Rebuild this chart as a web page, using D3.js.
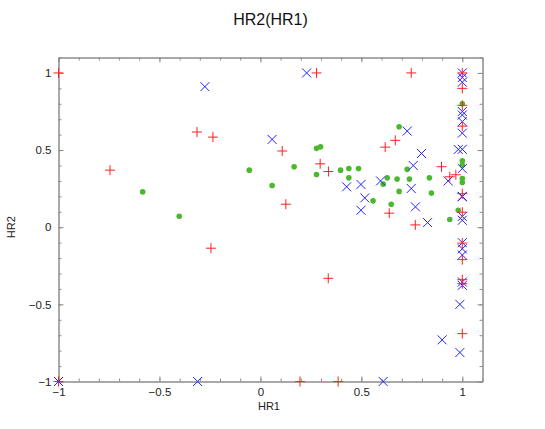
<!DOCTYPE html>
<html>
<head>
<meta charset="utf-8">
<script src="https://cdn.jsdelivr.net/npm/d3@7"></script>
<style>
  body { margin: 0; background: #fff; }
  svg { font-family: "Liberation Sans", Arial, sans-serif; }
  .axis path { stroke: #8c8c8c; }
  .axis line { stroke: #8c8c8c; }
  .axis text { fill: #222; font-size: 11.5px; }
</style>
</head>
<body>
<svg id="chart" width="545" height="429"></svg>
<script>
// red plus markers
const plusX = [-1, -0.745, -0.314, -0.235, -0.245, 0.108, 0.126, 0.196, 0.278, 0.296, 0.337, 0.336, 0.385,
  0.618, 0.668, 0.638, 0.747, 0.767, 0.897, 0.938, 0.968, 1, 1, 1, 1, 1, 1, 1, 1, 1, 1, 1, -1];
const plusY = [1, 0.37, 0.617, 0.584, -0.136, 0.494, 0.149, -1, 1, 0.411, 0.361, -0.331, -1,
  0.519, 0.563, 0.091, 1, 0.015, 0.392, 0.327, 0.34, 1, 0.9, 0.79, 0.655, 0.217, 0.097, -0.103, -0.21, -0.34, -0.366, -0.69, -1];

// blue cross markers
const crossX = [-1, -0.311, -0.275, 0.058, 0.229, 0.427, 0.498, 0.517, 0.498, 0.595, 0.608, 0.727, 0.757, 0.798,
  0.747, 0.768, 0.828, 0.93, 0.98, 0.9, 0.988, 0.988,
  1, 1, 1, 1, 1, 1, 1, 1, 1, 1, 1, 1, 1, 1, 1, 1, 1, 1];
const crossY = [-1, -1, 0.911, 0.569, 1, 0.262, 0.277, 0.19, 0.11, 0.3, -1, 0.623, 0.4, 0.478,
  0.251, 0.132, 0.03, 0.3, 0.504, -0.73, -0.5, -0.812,
  1, 0.97, 0.94, 0.75, 0.727, 0.684, 0.61, 0.505, 0.38, 0.2, 0.197, 0.07, 0.045, -0.1, -0.14, -0.18, -0.355, -0.377];

// green dots
const dotX = [-0.583, -0.402, -0.055, 0.058, 0.167, 0.278, 0.298, 0.278, 0.397, 0.438, 0.486, 0.438, 0.558,
  0.628, 0.608, 0.677, 0.687, 0.687, 0.727, 0.738, 0.648, 0.837, 0.847, 0.938, 0.98, 1, 1, 1, 1, 1];
const dotY = [0.229, 0.071, 0.37, 0.27, 0.392, 0.511, 0.521, 0.342, 0.37, 0.381, 0.381, 0.32, 0.171,
  0.32, 0.279, 0.312, 0.651, 0.232, 0.375, 0.312, 0.149, 0.32, 0.221, 0.05, 0.11, 0.8, 0.43, 0.403, 0.316, 0.29];

const majorTicks = [-1, -0.5, 0, 0.5, 1];
const minorTicks = d3.range(-10, 12).map(d => d / 10);

const title = "HR2(HR1)";
const xLabel = "HR1";
const yLabel = "HR2";

const svg = d3.select("#chart");
const pLeft = 58.5, pRight = 482.5, pTop = 57.5, pBottom = 381.5;

const x = d3.scaleLinear().domain([-1, 1.1]).range([pLeft, pRight]);
const y = d3.scaleLinear().domain([-1, 1.1]).range([pBottom, pTop]);

function axes() {
  // minor ticks on all four sides, pointing inward
  svg.append("g").attr("class", "axis").attr("transform", "translate(0," + pBottom + ")")
    .call(d3.axisBottom(x).tickValues(minorTicks).tickSizeInner(-3).tickSizeOuter(0).tickFormat(""));
  svg.append("g").attr("class", "axis").attr("transform", "translate(0," + pTop + ")")
    .call(d3.axisTop(x).tickValues(minorTicks).tickSizeInner(-3).tickSizeOuter(0).tickFormat(""));
  svg.append("g").attr("class", "axis").attr("transform", "translate(" + pLeft + ",0)")
    .call(d3.axisLeft(y).tickValues(minorTicks).tickSizeInner(-3).tickSizeOuter(0).tickFormat(""));
  svg.append("g").attr("class", "axis").attr("transform", "translate(" + pRight + ",0)")
    .call(d3.axisRight(y).tickValues(minorTicks).tickSizeInner(-3).tickSizeOuter(0).tickFormat(""));

  // major ticks + labels
  svg.append("g").attr("class", "axis").attr("transform", "translate(0," + pBottom + ")")
    .call(d3.axisBottom(x).tickValues(majorTicks).tickSizeInner(-5).tickSizeOuter(0).tickPadding(6).tickFormat(d3.format("")));
  svg.append("g").attr("class", "axis").attr("transform", "translate(0," + pTop + ")")
    .call(d3.axisTop(x).tickValues(majorTicks).tickSizeInner(-5).tickSizeOuter(0).tickFormat(""));
  svg.append("g").attr("class", "axis").attr("transform", "translate(" + pLeft + ",0)")
    .call(d3.axisLeft(y).tickValues(majorTicks).tickSizeInner(-5).tickSizeOuter(0).tickPadding(7).tickFormat(d3.format("")));
  svg.append("g").attr("class", "axis").attr("transform", "translate(" + pRight + ",0)")
    .call(d3.axisRight(y).tickValues(majorTicks).tickSizeInner(-5).tickSizeOuter(0).tickFormat(""));
}
axes();

// green dots
svg.append("g").selectAll("circle").data(d3.zip(dotX, dotY)).enter().append("circle")
  .attr("cx", d => x(d[0]))
  .attr("cy", d => y(d[1]))
  .attr("r", 2.8)
  .attr("fill", "#4cb82e");

// blue crosses
svg.append("g").selectAll("path").data(d3.zip(crossX, crossY)).enter().append("path")
  .attr("transform", d => "translate(" + x(d[0]) + "," + y(d[1]) + ")")
  .attr("d", "M-4.5,-4.5L4.5,4.5M-4.5,4.5L4.5,-4.5")
  .attr("stroke", "#2222ff")
  .attr("stroke-width", 1)
  .attr("fill", "none");

// red pluses
svg.append("g").selectAll("path").data(d3.zip(plusX, plusY)).enter().append("path")
  .attr("transform", d => "translate(" + x(d[0]) + "," + y(d[1]) + ")")
  .attr("d", "M-5,0L5,0M0,-5L0,5")
  .attr("stroke", "#ff2020")
  .attr("stroke-width", 1)
  .attr("fill", "none");

// titles
svg.append("text")
  .attr("x", (pLeft + pRight) / 2).attr("y", 25)
  .attr("text-anchor", "middle")
  .attr("font-size", "16px").attr("fill", "#111")
  .text(title);

svg.append("text")
  .attr("x", 269).attr("y", 410)
  .attr("text-anchor", "middle")
  .attr("font-size", "11px").attr("fill", "#222")
  .text(xLabel);

svg.append("text")
  .attr("transform", "translate(15," + y(0) + ") rotate(-90)")
  .attr("text-anchor", "middle")
  .attr("font-size", "11px").attr("fill", "#222")
  .text(yLabel);
</script>
</body>
</html>
